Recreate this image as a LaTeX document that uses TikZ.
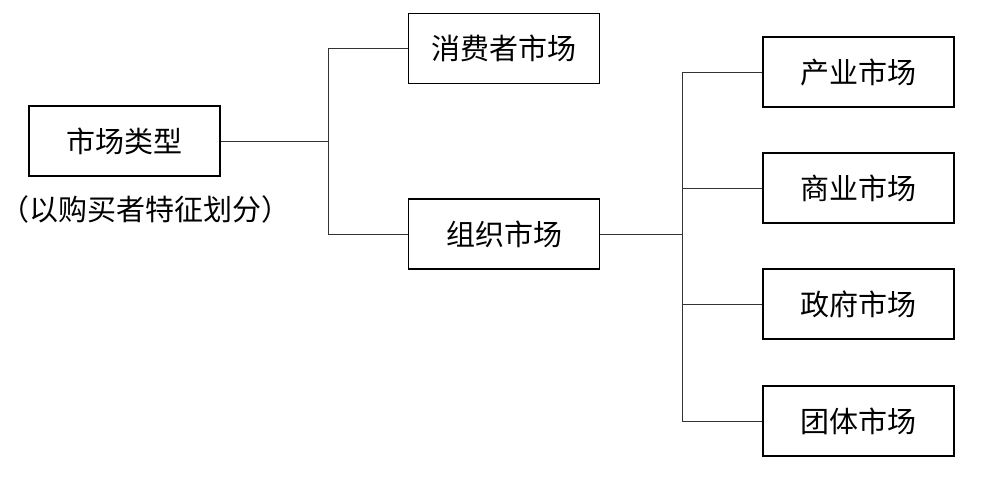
\documentclass[tikz,border=0pt]{standalone}
\usepackage{fontspec}
\newfontfamily\cjk{Noto Sans CJK SC}
\begin{document}
\begin{tikzpicture}[x=1pt,y=-1pt,
  box/.style={draw=black,line width=1.8pt,rectangle,minimum width=191pt,minimum height=70pt,inner sep=0pt,font=\cjk\fontsize{29}{34}\selectfont},
  link/.style={draw=black!80,line width=0.9pt}]
\useasboundingbox (0,0) rectangle (1002,478);
\node[box] (root) at (124.5,141) {市场类型};
\node[font=\cjk\fontsize{29}{34}\selectfont,inner sep=0pt] (note) at (146,209) {（以购买者特征划分）};
\node[box] (cons) at (504,48.5) {消费者市场};
\node[box] (org) at (504,234) {组织市场};
\node[box] (ind) at (858.5,72) {产业市场};
\node[box] (com) at (858.5,188) {商业市场};
\node[box] (gov) at (858.5,304) {政府市场};
\node[box] (grp) at (858.5,421) {团体市场};
\coordinate (s1) at (328,0);
\coordinate (s2) at (682.5,0);
\draw[link] (root.east) -- (root.east -| s1);
\draw[link] (cons.west) -- (cons.west -| s1) -- (org.west -| s1) -- (org.west);
\draw[link] (org.east) -- (org.east -| s2);
\draw[link] (ind.west) -- (ind.west -| s2) -- (grp.west -| s2) -- (grp.west);
\draw[link] (com.west) -- (com.west -| s2);
\draw[link] (gov.west) -- (gov.west -| s2);
\end{tikzpicture}
\end{document}
